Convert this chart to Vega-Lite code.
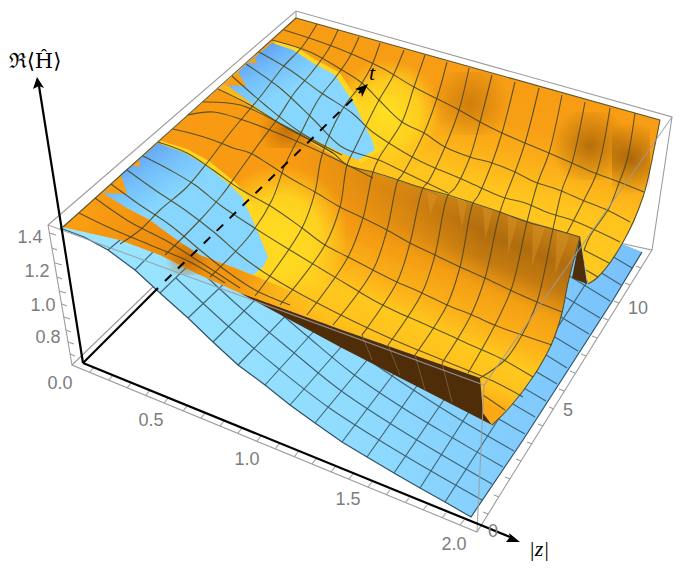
{"$schema":"https://vega.github.io/schema/vega-lite/v6.json","width":684,"height":570,"padding":0,"autosize":{"type":"fit","contains":"padding"},"background":"white","config":{"view":{"stroke":null}},
"encoding":{"x":{"field":"x","type":"quantitative","scale":{"domain":[0,684]},"axis":null},"y":{"field":"y","type":"quantitative","scale":{"domain":[570,0]},"axis":null},"order":{"value":null}},
"layer":[
{"data":{"values":[
{"id":"b1","x":48,"y":225},{"id":"b1","x":296,"y":11},{"id":"b1","x":672,"y":117},{"id":"b1","x":652,"y":250},{"id":"b1","x":620,"y":243},
{"id":"b2","x":296,"y":11},{"id":"b2","x":296,"y":18},
{"id":"b3","x":48,"y":225},{"id":"b3","x":72,"y":365},{"id":"b3","x":477,"y":532},{"id":"b3","x":652,"y":250},
{"id":"b4","x":72,"y":365},{"id":"b4","x":157,"y":283},
{"id":"y1","x":49,"y":233},{"id":"y1","x":56,"y":235},{"id":"y2","x":52,"y":248},{"id":"y2","x":57,"y":250},{"id":"y3","x":55,"y":263},{"id":"y3","x":62,"y":265},{"id":"y4","x":57,"y":277},{"id":"y4","x":62,"y":279},{"id":"y5","x":59,"y":291},{"id":"y5","x":66,"y":293},{"id":"y6","x":62,"y":304},{"id":"y6","x":67,"y":306},{"id":"y7","x":64,"y":317},{"id":"y7","x":70,"y":319},{"id":"y8","x":66,"y":330},{"id":"y8","x":71,"y":332},{"id":"y9","x":68,"y":342},{"id":"y9","x":74,"y":344},{"id":"y10","x":70,"y":354},{"id":"y10","x":75,"y":356},
{"id":"z1","x":90,"y":372},{"id":"z1","x":94,"y":367},{"id":"z2","x":109,"y":380},{"id":"z2","x":113,"y":375},{"id":"z3","x":127,"y":388},{"id":"z3","x":131,"y":383},{"id":"z4","x":146,"y":395},{"id":"z4","x":150,"y":390},{"id":"z5","x":164,"y":403},{"id":"z5","x":168,"y":398},{"id":"z6","x":183,"y":411},{"id":"z6","x":187,"y":406},{"id":"z7","x":201,"y":418},{"id":"z7","x":205,"y":413},{"id":"z8","x":220,"y":426},{"id":"z8","x":224,"y":421},{"id":"z9","x":238,"y":433},{"id":"z9","x":242,"y":428},{"id":"z10","x":257,"y":441},{"id":"z10","x":261,"y":436},{"id":"z11","x":275,"y":449},{"id":"z11","x":279,"y":444},{"id":"z12","x":294,"y":457},{"id":"z12","x":298,"y":452},{"id":"z13","x":312,"y":464},{"id":"z13","x":316,"y":459},{"id":"z14","x":331,"y":472},{"id":"z14","x":335,"y":467},{"id":"z15","x":349,"y":479},{"id":"z15","x":353,"y":474},{"id":"z16","x":368,"y":487},{"id":"z16","x":372,"y":482},{"id":"z17","x":386,"y":495},{"id":"z17","x":390,"y":490},{"id":"z18","x":405,"y":503},{"id":"z18","x":409,"y":498},{"id":"z19","x":423,"y":510},{"id":"z19","x":427,"y":505},{"id":"z20","x":442,"y":518},{"id":"z20","x":446,"y":513},{"id":"z21","x":460,"y":525},{"id":"z21","x":464,"y":520},
{"id":"t1","x":488,"y":514},{"id":"t1","x":483,"y":512},{"id":"t2","x":499,"y":497},{"id":"t2","x":494,"y":495},{"id":"t3","x":510,"y":479},{"id":"t3","x":505,"y":477},{"id":"t4","x":521,"y":461},{"id":"t4","x":516,"y":459},{"id":"t5","x":532,"y":444},{"id":"t5","x":527,"y":442},{"id":"t6","x":543,"y":426},{"id":"t6","x":538,"y":424},{"id":"t7","x":554,"y":409},{"id":"t7","x":549,"y":407},{"id":"t8","x":564,"y":391},{"id":"t8","x":559,"y":389},{"id":"t9","x":575,"y":373},{"id":"t9","x":570,"y":371},{"id":"t10","x":586,"y":356},{"id":"t10","x":581,"y":354},{"id":"t11","x":597,"y":338},{"id":"t11","x":592,"y":336},{"id":"t12","x":608,"y":320},{"id":"t12","x":603,"y":318},{"id":"t13","x":619,"y":303},{"id":"t13","x":614,"y":301},{"id":"t14","x":630,"y":285},{"id":"t14","x":625,"y":283},{"id":"t15","x":641,"y":268},{"id":"t15","x":636,"y":266}
]},"mark":{"type":"line","stroke":"#9c9c9c","strokeWidth":1.1},"encoding":{"detail":{"field":"id"}}},
{"data":{"values":[{"x":60,"y":228},{"x":84,"y":237},{"x":108,"y":250},{"x":135,"y":270},{"x":160,"y":293},{"x":188,"y":318},{"x":213,"y":342},{"x":238,"y":365},{"x":265,"y":385},{"x":290,"y":405},{"x":315,"y":423},{"x":342,"y":442},{"x":367,"y":457},{"x":394,"y":473},{"x":420,"y":488},{"x":445,"y":502},{"x":471,"y":517},{"x":523,"y":440},{"x":613,"y":300},{"x":642,"y":252},{"x":620,"y":243},{"x":296,"y":40}]},
"mark":{"type":"line","strokeWidth":0,"strokeOpacity":0,"fill":{"gradient":"linear","x1":0,"y1":0.5,"x2":1,"y2":0.5,"stops":[{"offset":0,"color":"#9ce6ff"},{"offset":0.5,"color":"#90dcff"},{"offset":1,"color":"#78c0fb"}]}}},
{"data":{"values":[
{"id":"k2","x":108,"y":250},{"id":"k2","x":150,"y":215},{"id":"k3","x":135,"y":270},{"id":"k3","x":190,"y":215},{"id":"k4","x":160,"y":293},{"id":"k4","x":225,"y":230},{"id":"k5","x":188,"y":318},{"id":"k5","x":270,"y":240},{"id":"k6","x":213,"y":342},{"id":"k6","x":300,"y":255},{"id":"k7","x":238,"y":365},{"id":"k7","x":330,"y":270},{"id":"k8","x":265,"y":385},{"id":"k8","x":365,"y":275},{"id":"k9","x":290,"y":405},{"id":"k9","x":400,"y":280},{"id":"k10","x":315,"y":423},{"id":"k10","x":425,"y":290},{"id":"k11","x":342,"y":442},{"id":"k11","x":450,"y":300},{"id":"k12","x":367,"y":457},{"id":"k12","x":470,"y":310},{"id":"k13","x":394,"y":473},{"id":"k13","x":495,"y":325},{"id":"k14","x":420,"y":488},{"id":"k14","x":515,"y":340},{"id":"k15","x":445,"y":502},{"id":"k15","x":616,"y":237},
{"id":"j1","x":176,"y":278},{"id":"j1","x":228,"y":326},{"id":"j1","x":279,"y":369},{"id":"j1","x":328,"y":407},{"id":"j1","x":379,"y":440},{"id":"j1","x":431,"y":471},{"id":"j1","x":482,"y":500},
{"id":"j2","x":192,"y":263},{"id":"j2","x":243,"y":310},{"id":"j2","x":293,"y":352},{"id":"j2","x":340,"y":390},{"id":"j2","x":391,"y":424},{"id":"j2","x":442,"y":455},{"id":"j2","x":492,"y":484},
{"id":"j3","x":258,"y":294},{"id":"j3","x":307,"y":336},{"id":"j3","x":353,"y":374},{"id":"j3","x":403,"y":408},{"id":"j3","x":453,"y":438},{"id":"j3","x":503,"y":467},
{"id":"j4","x":273,"y":278},{"id":"j4","x":321,"y":320},{"id":"j4","x":365,"y":357},{"id":"j4","x":415,"y":391},{"id":"j4","x":464,"y":422},{"id":"j4","x":514,"y":451},
{"id":"j5","x":335,"y":303},{"id":"j5","x":378,"y":341},{"id":"j5","x":427,"y":375},{"id":"j5","x":475,"y":405},{"id":"j5","x":525,"y":434},
{"id":"j6","x":390,"y":324},{"id":"j6","x":439,"y":358},{"id":"j6","x":486,"y":388},{"id":"j6","x":535,"y":417},
{"id":"j7","x":451,"y":342},{"id":"j7","x":497,"y":372},{"id":"j7","x":546,"y":401},
{"id":"j8","x":508,"y":355},{"id":"j8","x":557,"y":384},{"id":"j9","x":519,"y":338},{"id":"j9","x":567,"y":368},{"id":"j10","x":530,"y":322},{"id":"j10","x":578,"y":351},{"id":"j11","x":541,"y":305},{"id":"j11","x":589,"y":334},{"id":"j12","x":552,"y":289},{"id":"j12","x":600,"y":318},{"id":"j13","x":563,"y":272},{"id":"j13","x":610,"y":301},{"id":"j14","x":574,"y":256},{"id":"j14","x":621,"y":285},{"id":"j15","x":585,"y":240},{"id":"j15","x":632,"y":268}
]},"mark":{"type":"line","stroke":"#3f6272","strokeWidth":1.1,"interpolate":"catmull-rom"},"encoding":{"detail":{"field":"id"}}},
{"data":{"values":[{"x":60,"y":228},{"x":84,"y":237},{"x":108,"y":250},{"x":135,"y":270},{"x":160,"y":293},{"x":188,"y":318},{"x":213,"y":342},{"x":238,"y":365},{"x":265,"y":385},{"x":290,"y":405},{"x":315,"y":423},{"x":342,"y":442},{"x":367,"y":457},{"x":394,"y":473},{"x":420,"y":488},{"x":445,"y":502},{"x":471,"y":517},{"x":523,"y":440},{"x":613,"y":300},{"x":642,"y":252}]},"mark":{"type":"line","stroke":"#2f5266","strokeWidth":1.2}},
{"data":{"values":[{"x":296,"y":18},{"x":660,"y":120},{"x":658,"y":131},{"x":655,"y":145},{"x":650,"y":170},{"x":643,"y":197},{"x":634,"y":222},{"x":622,"y":244},{"x":607,"y":267},{"x":598,"y":277},{"x":588,"y":284},{"x":580,"y":237},{"x":347,"y":165},{"x":287,"y":128},{"x":218,"y":89}]},
"mark":{"type":"line","strokeWidth":0,"strokeOpacity":0,"fill":{"gradient":"linear","x1":0.176,"y1":0,"x2":-0.088,"y2":0.567,"stops":[{"offset":0,"color":"#f79c14"},{"offset":0.25,"color":"#f8a015"},{"offset":0.42,"color":"#fbae18"},{"offset":0.62,"color":"#ffc41e"},{"offset":1,"color":"#ffca20"}]}}},
{"data":{"values":[{"x":430,"y":72},{"x":510,"y":72},{"x":510,"y":135},{"x":430,"y":135}]},"mark":{"type":"line","strokeWidth":0,"strokeOpacity":0,"fill":{"gradient":"radial","x1":0.5,"y1":0.5,"r1":0,"x2":0.5,"y2":0.5,"r2":0.5,"stops":[{"offset":0,"color":"rgba(150,80,0,0.42)"},{"offset":1,"color":"rgba(150,80,0,0)"}]}}},
{"data":{"values":[{"x":550,"y":112},{"x":630,"y":112},{"x":630,"y":180},{"x":550,"y":180}]},"mark":{"type":"line","strokeWidth":0,"strokeOpacity":0,"fill":{"gradient":"radial","x1":0.5,"y1":0.5,"r1":0,"x2":0.5,"y2":0.5,"r2":0.5,"stops":[{"offset":0,"color":"rgba(130,70,0,0.55)"},{"offset":1,"color":"rgba(130,70,0,0)"}]}}},
{"data":{"values":[{"x":612,"y":122},{"x":650,"y":122},{"x":650,"y":195},{"x":612,"y":195}]},"mark":{"type":"line","strokeWidth":0,"strokeOpacity":0,"fill":{"gradient":"radial","x1":0.5,"y1":0.5,"r1":0,"x2":0.5,"y2":0.5,"r2":0.5,"stops":[{"offset":0,"color":"rgba(120,65,0,0.6)"},{"offset":1,"color":"rgba(120,65,0,0)"}]}}},
{"data":{"values":[{"x":335,"y":60},{"x":440,"y":60},{"x":440,"y":165},{"x":335,"y":165}]},"mark":{"type":"line","strokeWidth":0,"strokeOpacity":0,"fill":{"gradient":"radial","x1":0.5,"y1":0.5,"r1":0,"x2":0.5,"y2":0.5,"r2":0.5,"stops":[{"offset":0,"color":"rgba(255,224,34,1)"},{"offset":0.6,"color":"rgba(255,222,34,0.7)"},{"offset":1,"color":"rgba(255,220,34,0)"}]}}},
{"data":{"values":[{"x":63,"y":227},{"x":218,"y":89},{"x":287,"y":128},{"x":347,"y":165},{"x":580,"y":237},{"x":576,"y":250},{"x":572,"y":265},{"x":568,"y":283},{"x":565,"y":298},{"x":562,"y":313},{"x":558,"y":328},{"x":552,"y":343},{"x":543,"y":361},{"x":533,"y":377},{"x":521,"y":393},{"x":510,"y":407},{"x":501,"y":417},{"x":492,"y":425},{"x":483,"y":413},{"x":480,"y":378},{"x":342,"y":330},{"x":240,"y":293},{"x":200,"y":275},{"x":160,"y":255},{"x":120,"y":240}]},
"mark":{"type":"line","strokeWidth":0,"strokeOpacity":0,"fill":{"gradient":"linear","x1":0.3,"y1":0,"x2":0.024,"y2":0.418,"stops":[{"offset":0,"color":"#c47f16"},{"offset":0.14,"color":"#b06c0d"},{"offset":0.28,"color":"#c47a10"},{"offset":0.42,"color":"#f39f13"},{"offset":0.58,"color":"#fbae18"},{"offset":0.74,"color":"#ffc81e"},{"offset":0.9,"color":"#ffc01c"},{"offset":1,"color":"#fba816"}]}}},
{"data":{"values":[{"x":63,"y":227},{"x":218,"y":89},{"x":287,"y":128},{"x":347,"y":165},{"x":520,"y":220},{"x":505,"y":300},{"x":400,"y":262},{"x":300,"y":212},{"x":240,"y":190},{"x":205,"y":165},{"x":158,"y":143},{"x":127,"y":208}]},"mark":{"type":"line","strokeWidth":0,"strokeOpacity":0,"fill":{"gradient":"linear","x1":0,"y1":0.5,"x2":1,"y2":0.5,"stops":[{"offset":0,"color":"rgba(248,155,18,1)"},{"offset":0.5,"color":"rgba(248,155,18,1)"},{"offset":0.74,"color":"rgba(248,155,18,0.5)"},{"offset":0.92,"color":"rgba(248,155,18,0)"},{"offset":1,"color":"rgba(248,155,18,0)"}]}}},
{"data":{"values":[
{"id":"s1","x":427,"y":192},{"id":"s1","x":437,"y":196},{"id":"s1","x":430,"y":215},
{"id":"s2","x":457,"y":199},{"id":"s2","x":467,"y":202},{"id":"s2","x":462,"y":228},
{"id":"s3","x":483,"y":207},{"id":"s3","x":493,"y":210},{"id":"s3","x":485,"y":240},
{"id":"s4","x":508,"y":216},{"id":"s4","x":518,"y":219},{"id":"s4","x":508,"y":254},
{"id":"s5","x":533,"y":224},{"id":"s5","x":545,"y":227},{"id":"s5","x":532,"y":266},
{"id":"s6","x":557,"y":231},{"id":"s6","x":570,"y":235},{"id":"s6","x":555,"y":274}
]},"mark":{"type":"line","strokeWidth":0,"strokeOpacity":0,"fill":"#e09a2a","fillOpacity":0.38},"encoding":{"detail":{"field":"id"}}},
{"data":{"values":[{"x":215,"y":165},{"x":345,"y":165},{"x":345,"y":305},{"x":215,"y":305}]},"mark":{"type":"line","strokeWidth":0,"strokeOpacity":0,"fill":{"gradient":"radial","x1":0.5,"y1":0.5,"r1":0,"x2":0.5,"y2":0.5,"r2":0.5,"stops":[{"offset":0,"color":"rgba(255,220,34,1)"},{"offset":0.55,"color":"rgba(255,218,34,0.85)"},{"offset":1,"color":"rgba(255,215,34,0)"}]}}},
{"data":{"values":[{"x":63,"y":227},{"x":103,"y":193},{"x":127,"y":208},{"x":150,"y":220},{"x":173,"y":237},{"x":200,"y":255},{"x":233,"y":267},{"x":253,"y":275},{"x":300,"y":295},{"x":342,"y":330},{"x":240,"y":293},{"x":200,"y":275},{"x":160,"y":255},{"x":120,"y":240}]},"mark":{"type":"line","strokeWidth":0,"strokeOpacity":0,"fill":{"gradient":"linear","x1":0,"y1":0.3,"x2":1,"y2":0.6,"stops":[{"offset":0,"color":"#fb9f12"},{"offset":0.4,"color":"#ea8a0f"},{"offset":0.68,"color":"rgba(243,148,18,0.9)"},{"offset":1,"color":"rgba(251,172,24,0)"}]}}},
{"data":{"values":[{"x":258,"y":113},{"x":315,"y":113},{"x":315,"y":148},{"x":258,"y":148}]},"mark":{"type":"line","strokeWidth":0,"strokeOpacity":0,"fill":{"gradient":"radial","x1":0.5,"y1":0.5,"r1":0,"x2":0.5,"y2":0.5,"r2":0.5,"stops":[{"offset":0,"color":"rgba(180,95,0,0.7)"},{"offset":1,"color":"rgba(180,95,0,0)"}]}}},
{"data":{"values":[{"x":165,"y":245},{"x":210,"y":245},{"x":210,"y":275},{"x":165,"y":275}]},"mark":{"type":"line","strokeWidth":0,"strokeOpacity":0,"fill":{"gradient":"radial","x1":0.5,"y1":0.5,"r1":0,"x2":0.5,"y2":0.5,"r2":0.5,"stops":[{"offset":0,"color":"rgba(180,95,0,0.6)"},{"offset":1,"color":"rgba(180,95,0,0)"}]}}},
{"data":{"values":[
{"id":"h1","x":158,"y":140},{"id":"h1","x":187,"y":149},{"id":"h1","x":209,"y":161},{"id":"h1","x":235,"y":182},{"id":"h1","x":248,"y":196},{"id":"h1","x":264,"y":229},{"id":"h1","x":275,"y":257},{"id":"h1","x":266,"y":271},{"id":"h1","x":253,"y":275},{"id":"h1","x":230,"y":220},
{"id":"h2","x":272,"y":40},{"id":"h2","x":296,"y":47},{"id":"h2","x":316,"y":60},{"id":"h2","x":339,"y":72},{"id":"h2","x":360,"y":103},{"id":"h2","x":378,"y":138},{"id":"h2","x":382,"y":150},{"id":"h2","x":360,"y":164},{"id":"h2","x":340,"y":120}
]},"mark":{"type":"line","strokeWidth":0,"strokeOpacity":0,"fill":"#ffd622"},"encoding":{"detail":{"field":"id"}}},
{"data":{"values":[{"x":103,"y":193},{"x":122,"y":173},{"x":148,"y":152},{"x":158,"y":143},{"x":185,"y":153},{"x":205,"y":165},{"x":230,"y":185},{"x":242,"y":197},{"x":257,"y":230},{"x":268,"y":257},{"x":263,"y":267},{"x":253,"y":275},{"x":233,"y":267},{"x":200,"y":255},{"x":173,"y":237},{"x":150,"y":220},{"x":127,"y":208}]},"mark":{"type":"line","strokeWidth":0,"strokeOpacity":0,"fill":{"gradient":"linear","x1":0.15,"y1":0.05,"x2":0.42,"y2":0.4,"stops":[{"offset":0,"color":"#5d9cf3"},{"offset":0.5,"color":"#74bffa"},{"offset":1,"color":"#86d6ff"}]}}},
{"data":{"values":[{"x":227,"y":85},{"x":242,"y":68},{"x":272,"y":43},{"x":293,"y":50},{"x":313,"y":63},{"x":335,"y":75},{"x":355,"y":105},{"x":372,"y":140},{"x":375,"y":150},{"x":358,"y":160},{"x":342,"y":153},{"x":310,"y":138},{"x":283,"y":125},{"x":260,"y":110}]},"mark":{"type":"line","strokeWidth":0,"strokeOpacity":0,"fill":{"gradient":"linear","x1":0.15,"y1":0.05,"x2":0.42,"y2":0.4,"stops":[{"offset":0,"color":"#5d9cf3"},{"offset":0.5,"color":"#74bffa"},{"offset":1,"color":"#86d6ff"}]}}},
{"data":{"values":[
{"id":"a","x":103,"y":193},{"id":"a","x":127,"y":194},{"id":"a","x":121,"y":175},
{"id":"b","x":132,"y":165},{"id":"b","x":140,"y":167},{"id":"b","x":139,"y":160},
{"id":"c","x":223,"y":85},{"id":"c","x":246,"y":86},{"id":"c","x":238,"y":72},
{"id":"d","x":248,"y":63},{"id":"d","x":257,"y":63},{"id":"d","x":255,"y":58}
]},"mark":{"type":"line","strokeWidth":0,"strokeOpacity":0,"fill":"#fb9f12"},"encoding":{"detail":{"field":"id"}}},
{"data":{"values":[
{"id":"w","x":240,"y":293},{"id":"w","x":342,"y":330},{"id":"w","x":480,"y":378},{"id":"w","x":483,"y":413},{"id":"w","x":492,"y":425},{"id":"w","x":342,"y":348},
{"id":"sp","x":580,"y":237},{"id":"sp","x":572,"y":278},{"id":"sp","x":587,"y":284}
]},"mark":{"type":"line","strokeWidth":0,"strokeOpacity":0,"fill":"#4f2d08"},"encoding":{"detail":{"field":"id"}}},
{"data":{"values":[
{"id":"w1","x":362,"y":335},{"id":"w1","x":372,"y":360},{"id":"w2","x":388,"y":345},{"id":"w2","x":400,"y":375},{"id":"w3","x":415,"y":355},{"id":"w3","x":425,"y":390},{"id":"w4","x":442,"y":363},{"id":"w4","x":452,"y":402}
]},"mark":{"type":"line","stroke":"#6f5a3a","strokeWidth":1},"encoding":{"detail":{"field":"id"}}},
{"data":{"values":[
{"id":"e0a","x":63,"y":227},{"id":"e0a","x":296,"y":18},{"id":"e0b","x":296,"y":18},{"id":"e0b","x":660,"y":120},
{"id":"e0c","x":660,"y":120},{"id":"e0c","x":655,"y":145},{"id":"e0c","x":643,"y":197},{"id":"e0c","x":622,"y":244},{"id":"e0c","x":598,"y":277},{"id":"e0c","x":588,"y":284},
{"id":"e1","x":492,"y":425},{"id":"e1","x":510,"y":407},{"id":"e1","x":533,"y":377},{"id":"e1","x":552,"y":343},{"id":"e1","x":562,"y":313},{"id":"e1","x":568,"y":283},{"id":"e1","x":580,"y":237},
{"id":"cr","x":218,"y":89},{"id":"cr","x":250,"y":105},{"id":"cr","x":287,"y":128},{"id":"cr","x":333,"y":153},{"id":"cr","x":347,"y":165},{"id":"cr","x":373,"y":172},{"id":"cr","x":398,"y":180},{"id":"cr","x":423,"y":188},{"id":"cr","x":448,"y":195},{"id":"cr","x":473,"y":203},{"id":"cr","x":500,"y":212},{"id":"cr","x":527,"y":222},{"id":"cr","x":553,"y":229},{"id":"cr","x":580,"y":237},
{"id":"j15","x":284,"y":30},{"id":"j15","x":315,"y":40},{"id":"j15","x":342,"y":50},{"id":"j15","x":382,"y":68},{"id":"j15","x":414,"y":87},{"id":"j15","x":459,"y":110},{"id":"j15","x":480,"y":122},{"id":"j15","x":502,"y":133},{"id":"j15","x":525,"y":143},{"id":"j15","x":549,"y":153},{"id":"j15","x":572,"y":163},{"id":"j15","x":595,"y":173},{"id":"j15","x":619,"y":182},{"id":"j15","x":644,"y":192},
{"id":"j14","x":272,"y":40},{"id":"j14","x":310,"y":52},{"id":"j14","x":342,"y":70},{"id":"j14","x":362,"y":83},{"id":"j14","x":379,"y":100},{"id":"j14","x":402,"y":122},{"id":"j14","x":424,"y":133},{"id":"j14","x":445,"y":147},{"id":"j14","x":470,"y":157},{"id":"j14","x":492,"y":163},{"id":"j14","x":515,"y":172},{"id":"j14","x":535,"y":182},{"id":"j14","x":559,"y":190},{"id":"j14","x":582,"y":200},{"id":"j14","x":607,"y":210},{"id":"j14","x":630,"y":222},
{"id":"j13","x":259,"y":52},{"id":"j13","x":290,"y":70},{"id":"j13","x":320,"y":92},{"id":"j13","x":352,"y":113},{"id":"j13","x":370,"y":130},{"id":"j13","x":392,"y":145},{"id":"j13","x":414,"y":158},{"id":"j13","x":435,"y":168},{"id":"j13","x":457,"y":177},{"id":"j13","x":479,"y":187},{"id":"j13","x":502,"y":197},{"id":"j13","x":525,"y":203},{"id":"j13","x":549,"y":213},{"id":"j13","x":572,"y":220},{"id":"j13","x":595,"y":230},{"id":"j13","x":620,"y":242},
{"id":"j12a","x":246,"y":64},{"id":"j12a","x":280,"y":88},{"id":"j12a","x":312,"y":118},{"id":"j12a","x":342,"y":147},{"id":"j12a","x":379,"y":160},{"id":"j12a","x":400,"y":170},{"id":"j12a","x":448,"y":193},
{"id":"j12b","x":584,"y":250},{"id":"j12b","x":609,"y":263},
{"id":"j11a","x":232,"y":76},{"id":"j11a","x":265,"y":105},{"id":"j11a","x":300,"y":132},{"id":"j11a","x":342,"y":155},
{"id":"j11b","x":586,"y":270},{"id":"j11b","x":598,"y":277},
{"id":"j9","x":203,"y":102},{"id":"j9","x":240,"y":105},{"id":"j9","x":283,"y":125},{"id":"j9","x":333,"y":153},
{"id":"j8","x":188,"y":115},{"id":"j8","x":213,"y":112},{"id":"j8","x":243,"y":120},{"id":"j8","x":287,"y":137},{"id":"j8","x":333,"y":158},{"id":"j8","x":373,"y":178},
{"id":"j7","x":173,"y":129},{"id":"j7","x":190,"y":133},{"id":"j7","x":213,"y":140},{"id":"j7","x":233,"y":148},{"id":"j7","x":250,"y":153},{"id":"j7","x":267,"y":163},{"id":"j7","x":290,"y":178},{"id":"j7","x":315,"y":192},{"id":"j7","x":340,"y":207},{"id":"j7","x":363,"y":218},{"id":"j7","x":387,"y":230},{"id":"j7","x":410,"y":243},{"id":"j7","x":435,"y":255},{"id":"j7","x":460,"y":267},{"id":"j7","x":485,"y":278},{"id":"j7","x":510,"y":290},{"id":"j7","x":537,"y":302},{"id":"j7","x":562,"y":312},
{"id":"j6","x":158,"y":142},{"id":"j6","x":187,"y":153},{"id":"j6","x":213,"y":170},{"id":"j6","x":240,"y":189},{"id":"j6","x":272,"y":207},{"id":"j6","x":302,"y":228},{"id":"j6","x":325,"y":245},{"id":"j6","x":348,"y":257},{"id":"j6","x":373,"y":270},{"id":"j6","x":397,"y":282},{"id":"j6","x":422,"y":293},{"id":"j6","x":447,"y":305},{"id":"j6","x":472,"y":315},{"id":"j6","x":497,"y":326},{"id":"j6","x":522,"y":335},{"id":"j6","x":552,"y":345},
{"id":"j5","x":143,"y":156},{"id":"j5","x":170,"y":170},{"id":"j5","x":195,"y":185},{"id":"j5","x":220,"y":205},{"id":"j5","x":250,"y":225},{"id":"j5","x":285,"y":247},{"id":"j5","x":323,"y":270},{"id":"j5","x":348,"y":285},{"id":"j5","x":373,"y":300},{"id":"j5","x":397,"y":312},{"id":"j5","x":422,"y":323},{"id":"j5","x":447,"y":334},{"id":"j5","x":473,"y":346},{"id":"j5","x":500,"y":358},{"id":"j5","x":533,"y":377},
{"id":"j4","x":127,"y":170},{"id":"j4","x":155,"y":190},{"id":"j4","x":185,"y":210},{"id":"j4","x":215,"y":233},{"id":"j4","x":240,"y":255},{"id":"j4","x":265,"y":273},{"id":"j4","x":295,"y":291},{"id":"j4","x":325,"y":307},{"id":"j4","x":355,"y":322},{"id":"j4","x":385,"y":336},{"id":"j4","x":413,"y":348},{"id":"j4","x":440,"y":359},{"id":"j4","x":467,"y":370},{"id":"j4","x":493,"y":381},{"id":"j4","x":523,"y":397},
{"id":"j3a","x":111,"y":184},{"id":"j3a","x":140,"y":205},{"id":"j3a","x":170,"y":225},{"id":"j3a","x":200,"y":250},{"id":"j3a","x":225,"y":270},{"id":"j3a","x":255,"y":290},{"id":"j3a","x":290,"y":305},
{"id":"j3b","x":483,"y":395},{"id":"j3b","x":505,"y":410},
{"id":"j2","x":95,"y":198},{"id":"j2","x":130,"y":222},{"id":"j2","x":165,"y":240},{"id":"j2","x":200,"y":262},{"id":"j2","x":240,"y":288},
{"id":"j1","x":79,"y":213},{"id":"j1","x":110,"y":228},{"id":"j1","x":150,"y":245},{"id":"j1","x":190,"y":262},{"id":"j1","x":225,"y":283},
{"id":"k1","x":317,"y":24},{"id":"k1","x":302,"y":47},{"id":"k1","x":283,"y":67},{"id":"k1","x":260,"y":97},{"id":"k1","x":230,"y":133},{"id":"k1","x":207,"y":163},{"id":"k1","x":187,"y":187},{"id":"k1","x":160,"y":210},{"id":"k1","x":140,"y":230},{"id":"k1","x":120,"y":244},
{"id":"k2","x":338,"y":30},{"id":"k2","x":328,"y":50},{"id":"k2","x":312,"y":72},{"id":"k2","x":295,"y":92},{"id":"k2","x":278,"y":118},{"id":"k2","x":258,"y":145},{"id":"k2","x":240,"y":170},{"id":"k2","x":222,"y":195},{"id":"k2","x":200,"y":220},{"id":"k2","x":165,"y":255},
{"id":"k3","x":359,"y":37},{"id":"k3","x":349,"y":58},{"id":"k3","x":335,"y":78},{"id":"k3","x":318,"y":100},{"id":"k3","x":300,"y":135},{"id":"k3","x":285,"y":165},{"id":"k3","x":272,"y":200},{"id":"k3","x":250,"y":235},{"id":"k3","x":210,"y":277},
{"id":"k4","x":380,"y":43},{"id":"k4","x":372,"y":65},{"id":"k4","x":362,"y":83},{"id":"k4","x":342,"y":110},{"id":"k4","x":322,"y":155},{"id":"k4","x":315,"y":192},{"id":"k4","x":302,"y":228},{"id":"k4","x":255,"y":296},
{"id":"k5","x":404,"y":50},{"id":"k5","x":392,"y":78},{"id":"k5","x":379,"y":100},{"id":"k5","x":355,"y":148},{"id":"k5","x":347,"y":165},{"id":"k5","x":340,"y":207},{"id":"k5","x":325,"y":245},{"id":"k5","x":280,"y":305},
{"id":"k6","x":425,"y":55},{"id":"k6","x":414,"y":87},{"id":"k6","x":402,"y":122},{"id":"k6","x":379,"y":158},{"id":"k6","x":373,"y":172},{"id":"k6","x":363,"y":218},{"id":"k6","x":348,"y":257},{"id":"k6","x":307,"y":315},
{"id":"k7","x":447,"y":62},{"id":"k7","x":437,"y":98},{"id":"k7","x":424,"y":133},{"id":"k7","x":402,"y":175},{"id":"k7","x":398,"y":180},{"id":"k7","x":387,"y":230},{"id":"k7","x":373,"y":270},{"id":"k7","x":333,"y":325},
{"id":"k8","x":469,"y":68},{"id":"k8","x":459,"y":110},{"id":"k8","x":445,"y":147},{"id":"k8","x":428,"y":182},{"id":"k8","x":423,"y":188},{"id":"k8","x":410,"y":243},{"id":"k8","x":397,"y":282},{"id":"k8","x":362,"y":335},
{"id":"k9","x":492,"y":75},{"id":"k9","x":480,"y":122},{"id":"k9","x":470,"y":157},{"id":"k9","x":455,"y":188},{"id":"k9","x":448,"y":195},{"id":"k9","x":435,"y":255},{"id":"k9","x":422,"y":293},{"id":"k9","x":388,"y":345},
{"id":"k10","x":515,"y":82},{"id":"k10","x":502,"y":133},{"id":"k10","x":492,"y":163},{"id":"k10","x":478,"y":196},{"id":"k10","x":473,"y":203},{"id":"k10","x":460,"y":267},{"id":"k10","x":447,"y":305},{"id":"k10","x":415,"y":355},
{"id":"k11","x":539,"y":88},{"id":"k11","x":525,"y":143},{"id":"k11","x":515,"y":172},{"id":"k11","x":500,"y":212},{"id":"k11","x":485,"y":278},{"id":"k11","x":470,"y":317},{"id":"k11","x":442,"y":363},
{"id":"k12","x":562,"y":95},{"id":"k12","x":549,"y":153},{"id":"k12","x":538,"y":182},{"id":"k12","x":527,"y":222},{"id":"k12","x":512,"y":287},{"id":"k12","x":495,"y":325},{"id":"k12","x":468,"y":373},
{"id":"k13","x":585,"y":102},{"id":"k13","x":572,"y":163},{"id":"k13","x":562,"y":190},{"id":"k13","x":553,"y":229},{"id":"k13","x":537,"y":302},{"id":"k13","x":522,"y":335},{"id":"k13","x":505,"y":360},{"id":"k13","x":480,"y":378},
{"id":"k14","x":610,"y":108},{"id":"k14","x":597,"y":172},{"id":"k14","x":584,"y":200},{"id":"k14","x":567,"y":233},
{"id":"k15","x":635,"y":113},{"id":"k15","x":627,"y":160},{"id":"k15","x":619,"y":183},{"id":"k15","x":609,"y":208},{"id":"k15","x":590,"y":236},{"id":"k15","x":584,"y":250}
]},"mark":{"type":"line","stroke":"#4b4820","strokeWidth":1.1,"strokeOpacity":0.9,"interpolate":"catmull-rom"},"encoding":{"detail":{"field":"id"}}},
{"data":{"values":[{"id":"g1","x":48,"y":225},{"id":"g1","x":484,"y":385},{"id":"g1","x":672,"y":117},{"id":"g2","x":484,"y":385},{"id":"g2","x":477,"y":532}]},"mark":{"type":"line","stroke":"#9c9c9c","strokeWidth":1.1,"strokeOpacity":0.85},"encoding":{"detail":{"field":"id"}}},
{"data":{"values":[{"id":"ax1","x":83,"y":363},{"id":"ax1","x":39,"y":86},{"id":"ax2","x":83,"y":363},{"id":"ax2","x":510,"y":537},{"id":"ax3","x":83,"y":363},{"id":"ax3","x":158,"y":288}]},"mark":{"type":"line","stroke":"#000000","strokeWidth":2.2},"encoding":{"detail":{"field":"id"}}},
{"data":{"values":[{"x":165,"y":281},{"x":361,"y":91}]},"mark":{"type":"line","stroke":"#000000","strokeWidth":2,"strokeDash":[9,9]}},
{"data":{"values":[
{"id":"h1","x":37,"y":77},{"id":"h1","x":44,"y":88},{"id":"h1","x":39,"y":86},{"id":"h1","x":33,"y":89},
{"id":"h2","x":368,"y":84},{"id":"h2","x":362,"y":97},{"id":"h2","x":361,"y":91},{"id":"h2","x":355,"y":89},
{"id":"h3","x":520,"y":542},{"id":"h3","x":506,"y":542},{"id":"h3","x":510,"y":537},{"id":"h3","x":509,"y":533}
]},"mark":{"type":"line","strokeWidth":0,"strokeOpacity":0,"fill":"#000000"},"encoding":{"detail":{"field":"id"}}},
{"data":{"values":[{"x":30,"y":238,"label":"1.4"},{"x":37,"y":272,"label":"1.2"},{"x":43,"y":306,"label":"1.0"},{"x":48,"y":338,"label":"0.8"},{"x":60,"y":384,"label":"0.0"},{"x":151,"y":421,"label":"0.5"},{"x":247,"y":460,"label":"1.0"},{"x":348,"y":500,"label":"1.5"},{"x":454,"y":545,"label":"2.0"},{"x":493,"y":532,"label":"0"},{"x":568,"y":411,"label":"5"},{"x":638,"y":309,"label":"10"}]},
"mark":{"type":"text","font":"Liberation Sans","fontSize":18,"fill":"#7d7d7d","align":"center","baseline":"middle"},"encoding":{"text":{"field":"label"}}},
{"data":{"values":[{"x":35,"y":62,"label":"ℜ⟨Ĥ⟩"}]},"mark":{"type":"text","font":"DejaVu Serif","fontSize":21,"fill":"#000000","align":"center","baseline":"middle"},"encoding":{"text":{"field":"label"}}},
{"data":{"values":[{"x":372,"y":73,"label":"t"},{"x":539,"y":549,"label":"|z|"}]},"mark":{"type":"text","font":"Liberation Serif","fontStyle":"italic","fontSize":22,"fill":"#000000","align":"center","baseline":"middle"},"encoding":{"text":{"field":"label"}}}
]}
